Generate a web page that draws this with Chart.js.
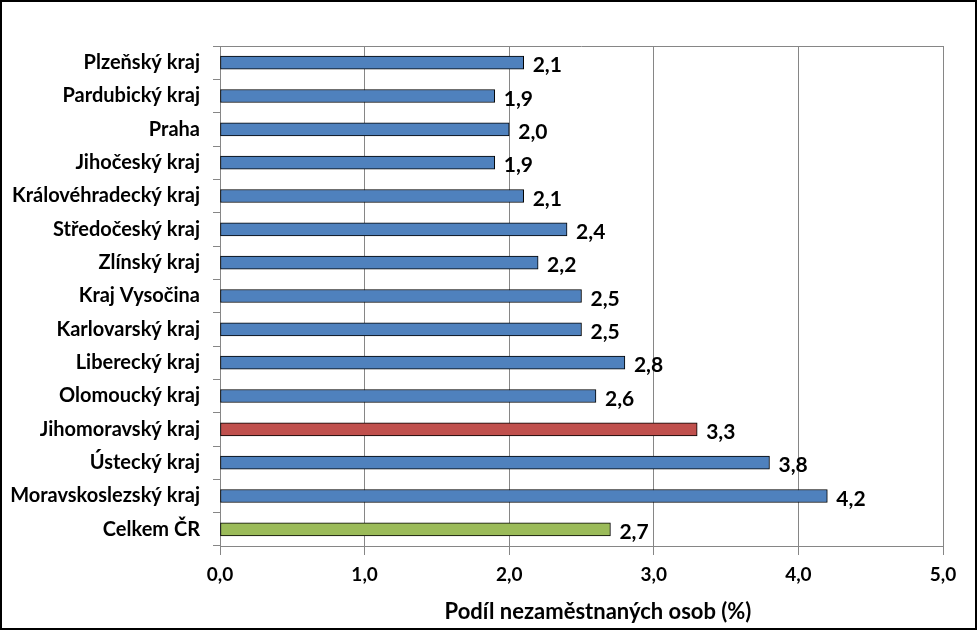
<!DOCTYPE html>
<html><head><meta charset="utf-8">
<script src="https://cdn.jsdelivr.net/npm/chart.js@4.4.1/dist/chart.umd.min.js"></script>
<style>html,body{margin:0;padding:0;background:#fff}#wrap{width:977px;height:630px}</style>
</head><body><div id="wrap"><canvas id="c" width="977" height="630"></canvas></div>
<script>
const categories = ["Plzeňský kraj","Pardubický kraj","Praha","Jihočeský kraj","Královéhradecký kraj","Středočeský kraj","Zlínský kraj","Kraj Vysočina","Karlovarský kraj","Liberecký kraj","Olomoucký kraj","Jihomoravský kraj","Ústecký kraj","Moravskoslezský kraj","Celkem ČR"];
const values = [2.1,1.9,2.0,1.9,2.1,2.4,2.2,2.5,2.5,2.8,2.6,3.3,3.8,4.2,2.7];
const barColors = ["#4F81BD","#4F81BD","#4F81BD","#4F81BD","#4F81BD","#4F81BD","#4F81BD","#4F81BD","#4F81BD","#4F81BD","#4F81BD","#C0504D","#4F81BD","#4F81BD","#9BBB59"];
const xTicks = [0,1,2,3,4,5];
const axisTitle = "Podíl nezaměstnaných osob (%)";
const FONT = "Lato, 'Open Sans', sans-serif";
const GRID = "#868686";
const fmt = v => v.toFixed(1).replace('.', ',');

const extras = {
  id: 'extras',
  afterDatasetsDraw(chart) {
    const ctx = chart.ctx, a = chart.chartArea;
    ctx.save();
    ctx.strokeStyle = GRID; ctx.lineWidth = 1;
    ctx.beginPath(); ctx.moveTo(a.left, Math.round(a.top)+0.5); ctx.lineTo(a.right, Math.round(a.top)+0.5); ctx.stroke();
    const meta = chart.getDatasetMeta(0);
    ctx.fillStyle = "#000";
    ctx.font = "bold 21px " + FONT;
    ctx.textAlign = "left"; ctx.textBaseline = "middle";
    meta.data.forEach((el, i) => {
      ctx.fillText(fmt(values[i]), el.x + 9, el.y + 3);
    });
    ctx.font = "bold 22px " + FONT;
    ctx.textAlign = "center";
    ctx.fillText(axisTitle, 598, 612);
    ctx.strokeStyle = "#000"; ctx.lineWidth = 2;
    ctx.strokeRect(1, 1, 975, 628);
    ctx.restore();
  }
};

new Chart(document.getElementById('c'), {
  type: 'bar',
  data: {
    labels: categories,
    datasets: [{
      data: values,
      backgroundColor: barColors,
      borderColor: "#000",
      borderWidth: 1,
      barThickness: 13,
      borderSkipped: false
    }]
  },
  options: {
    indexAxis: 'y',
    responsive: false,
    animation: false,
    layout: { padding: { left: 0, right: 34, top: 46, bottom: 0 } },
    plugins: { legend: { display: false }, tooltip: { enabled: false } },
    scales: {
      x: {
        min: 0, max: 5,
        afterBuildTicks(scale) { scale.ticks = xTicks.map(v => ({ value: v })); },
        afterFit(scale) { scale.height = 84; },
        ticks: { color: "#000", font: { family: FONT, size: 19, weight: 'bold' }, padding: 8, callback: v => fmt(v) },
        grid: { color: GRID, lineWidth: 1, tickLength: 9, drawTicks: true },
        border: { color: GRID, width: 1 }
      },
      y: {
        afterFit(scale) { scale.width = 220; },
        ticks: { color: "#000", font: { family: FONT, size: 20, weight: 'bold' }, padding: 13, autoSkip: false },
        grid: { color: GRID, drawOnChartArea: false, tickLength: 7, offset: true },
        border: { color: GRID, width: 1 }
      }
    }
  },
  plugins: [extras]
});
</script></body></html>
